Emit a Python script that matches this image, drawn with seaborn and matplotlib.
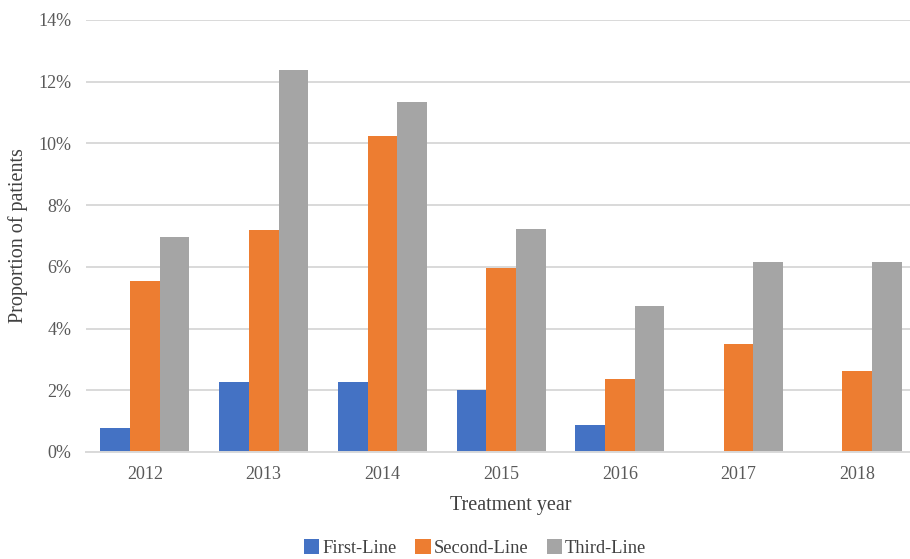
import numpy as np
import pandas as pd
import matplotlib
matplotlib.use("Agg")
import matplotlib.pyplot as plt
from matplotlib.ticker import FuncFormatter, MultipleLocator
import seaborn as sns

years = ["2012", "2013", "2014", "2015", "2016", "2017", "2018"]
first_line = [0.78, 2.27, 2.27, 2.01, 0.87, 0.0, 0.0]
second_line = [5.54, 7.19, 10.24, 5.96, 2.37, 3.50, 2.62]
third_line = [6.97, 12.38, 11.34, 7.23, 4.73, 6.16, 6.16]
series_names = ["First-Line", "Second-Line", "Third-Line"]
colors = ["#4472C4", "#ED7D31", "#A5A5A5"]

df = pd.DataFrame({
    "year": years * 3,
    "value": first_line + second_line + third_line,
    "line": [series_names[0]] * 7 + [series_names[1]] * 7 + [series_names[2]] * 7,
})

sns.set_theme(style="white")
plt.rcParams["font.family"] = ["Liberation Serif", "DejaVu Serif"]

fig = plt.figure(figsize=(9.10, 5.59), dpi=100)
ax = fig.add_axes([85.6 / 910, 1 - 452 / 559, 831 / 910, 432 / 559])

sns.barplot(data=df, x="year", y="value", hue="line", palette=colors,
            width=0.75, gap=0, saturation=1, ax=ax, legend=True,
            linewidth=0, edgecolor="none")

ax.set_ylim(0, 14)
ax.yaxis.set_major_locator(MultipleLocator(2))
ax.yaxis.set_major_formatter(FuncFormatter(lambda v, p: f"{int(round(v))}%"))
ax.set_xlim(-0.5, 6.5)

ax.grid(axis="y", color="#D9D9D9", linewidth=1.4)
ax.set_axisbelow(True)
for s in ["top", "right", "left"]:
    ax.spines[s].set_visible(False)
ax.spines["bottom"].set_color("#D9D9D9")
ax.spines["bottom"].set_linewidth(1.4)

ax.tick_params(axis="both", length=0, labelsize=13, colors="#595959")
ax.tick_params(axis="y", pad=10)
ax.tick_params(axis="x", pad=10)

ax.set_xlabel("Treatment year", fontsize=14.5, color="#404040")
ax.set_ylabel("Proportion of patients", fontsize=14.5, color="#404040")
ax.xaxis.set_label_coords(0.512, -0.102)
ax.yaxis.set_label_coords(-0.069, 0.5)

handles, labels = ax.get_legend_handles_labels()
ax.get_legend().remove()
fig.legend(handles, labels, loc="center", bbox_to_anchor=(0.522, 0.02),
           ncol=3, frameon=False, fontsize=13.3, handlelength=0.85,
           handleheight=0.85, handletextpad=0.15, columnspacing=1.0,
           labelcolor="#404040")

fig.savefig("out.png", dpi=100)
